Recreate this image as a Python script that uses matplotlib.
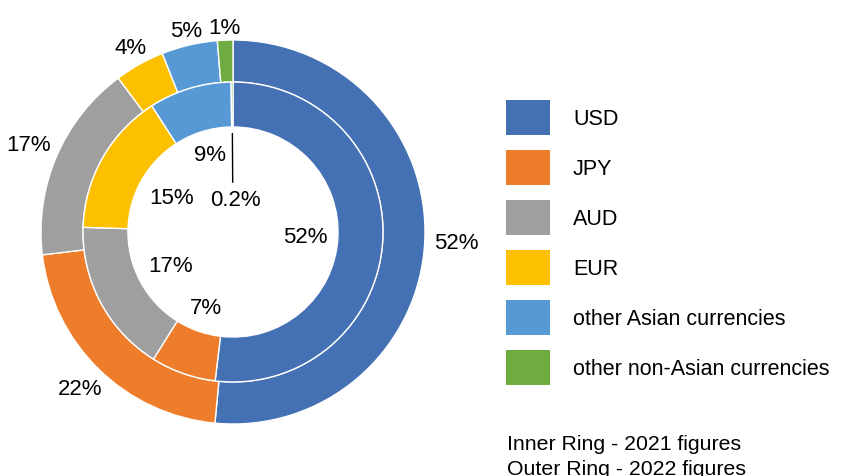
import numpy as np
import matplotlib
matplotlib.use("Agg")
import matplotlib.pyplot as plt
from matplotlib.patches import Patch

plt.rcParams['font.family'] = ['Liberation Sans', 'DejaVu Sans']

currencies = ["USD", "JPY", "AUD", "EUR", "other Asian currencies", "other non-Asian currencies"]
colors = ["#4470B4", "#ED7D2B", "#9F9F9F", "#FCC000", "#5699D5", "#6EAB40"]
# shares (rounded labels shown below)
values_2021 = [51.9, 7.0, 16.6, 15.4, 8.9, 0.2]   # inner ring
values_2022 = [51.5, 21.6, 16.7, 4.2, 4.7, 1.3]   # outer ring
labels_2021 = ["52%", "7%", "17%", "15%", "9%", "0.2%"]
labels_2022 = ["52%", "22%", "17%", "4%", "5%", "1%"]
note_lines = ["Inner Ring - 2021 figures", "Outer Ring - 2022 figures"]

W, H, DPI = 842, 477, 100
FS_PIE = 16
FS_LEG = 15.5
FS_NOTE = 15.3
fig = plt.figure(figsize=(W / DPI, H / DPI), dpi=DPI)

R_OUT = 1.0
R_MID = 0.781
R_HOLE = 0.547
LIM = 1.2
px_per_unit = 192.0
cx, cy = 233, 233
ax_w = 2 * LIM * px_per_unit
ax = fig.add_axes([(cx - ax_w / 2) / W, ((H - cy) - ax_w / 2) / H, ax_w / W, ax_w / H])
ax.set_xlim(-LIM, LIM)
ax.set_ylim(-LIM, LIM)
ax.set_aspect('equal')
ax.axis('off')

wp = dict(edgecolor='white', linewidth=1.0)
outer, _ = ax.pie(values_2022, radius=R_OUT, colors=colors, startangle=90, counterclock=False,
                  wedgeprops=dict(width=R_OUT - R_MID, **wp))
inner, _ = ax.pie(values_2021, radius=R_MID, colors=colors, startangle=90, counterclock=False,
                  wedgeprops=dict(width=R_MID - R_HOLE, **wp))
ax.set_xlim(-LIM, LIM)
ax.set_ylim(-LIM, LIM)

renderer = fig.canvas.get_renderer()


def place(text, wedge, r_edge, pad, outward, hfac=1.0):
    phi = np.deg2rad((wedge.theta1 + wedge.theta2) / 2)
    ux, uy = np.cos(phi), np.sin(phi)
    t = ax.text(0, 0, text, ha='center', va='center', fontsize=FS_PIE, color='black')
    bb = t.get_window_extent(renderer=renderer)
    hw = bb.width / 2 / px_per_unit
    hh = bb.height / 2 / px_per_unit * hfac
    off = abs(ux) * hw + abs(uy) * hh
    r = r_edge + pad + off if outward else r_edge - pad - off
    t.set_position((r * ux, r * uy))


for lab, w in zip(labels_2022, outer):
    place(lab, w, R_OUT, 0.05, True, hfac=0.2)

for lab, w, v in zip(labels_2021, inner, values_2021):
    if v < 1:
        phi = np.deg2rad((w.theta1 + w.theta2) / 2)
        ux, uy = np.cos(phi), np.sin(phi)
        r0, r1 = R_HOLE - 0.035, 0.26
        ax.plot([r0 * ux, r1 * ux], [r0 * uy, r1 * uy], color='black', linewidth=1)
        ax.text(r1 * ux + 0.015, r1 * uy - 0.035, lab, ha='center', va='top', fontsize=FS_PIE)
    else:
        place(lab, w, R_HOLE, 0.05, False)

# legend geometry (pixels)
sw_w, sw_h, row_pitch, sw_top, sw_left, text_left = 44, 35, 50, 101, 506, 573
fs_px = FS_LEG * DPI / 72
rect_pt = sw_h * 72 / DPI
hh = (rect_pt / FS_LEG - 0.245) / 0.65
handles = [Patch(facecolor=c, edgecolor='none') for c in colors]
fig.legend(handles, currencies, loc='upper left',
           bbox_to_anchor=(sw_left / W, 1 - sw_top / H), frameon=False, fontsize=FS_LEG,
           handlelength=sw_w / fs_px, handleheight=hh, handletextpad=(text_left - sw_left - sw_w) / fs_px,
           labelspacing=(row_pitch - sw_h) / fs_px, borderpad=0, borderaxespad=0)

fig.text(507 / W, 1 - 450 / H, note_lines[0], fontsize=FS_NOTE, va='baseline', ha='left')
fig.text(507 / W, 1 - 475 / H, note_lines[1], fontsize=FS_NOTE, va='baseline', ha='left')

fig.savefig("out.png", dpi=DPI, facecolor='white')
